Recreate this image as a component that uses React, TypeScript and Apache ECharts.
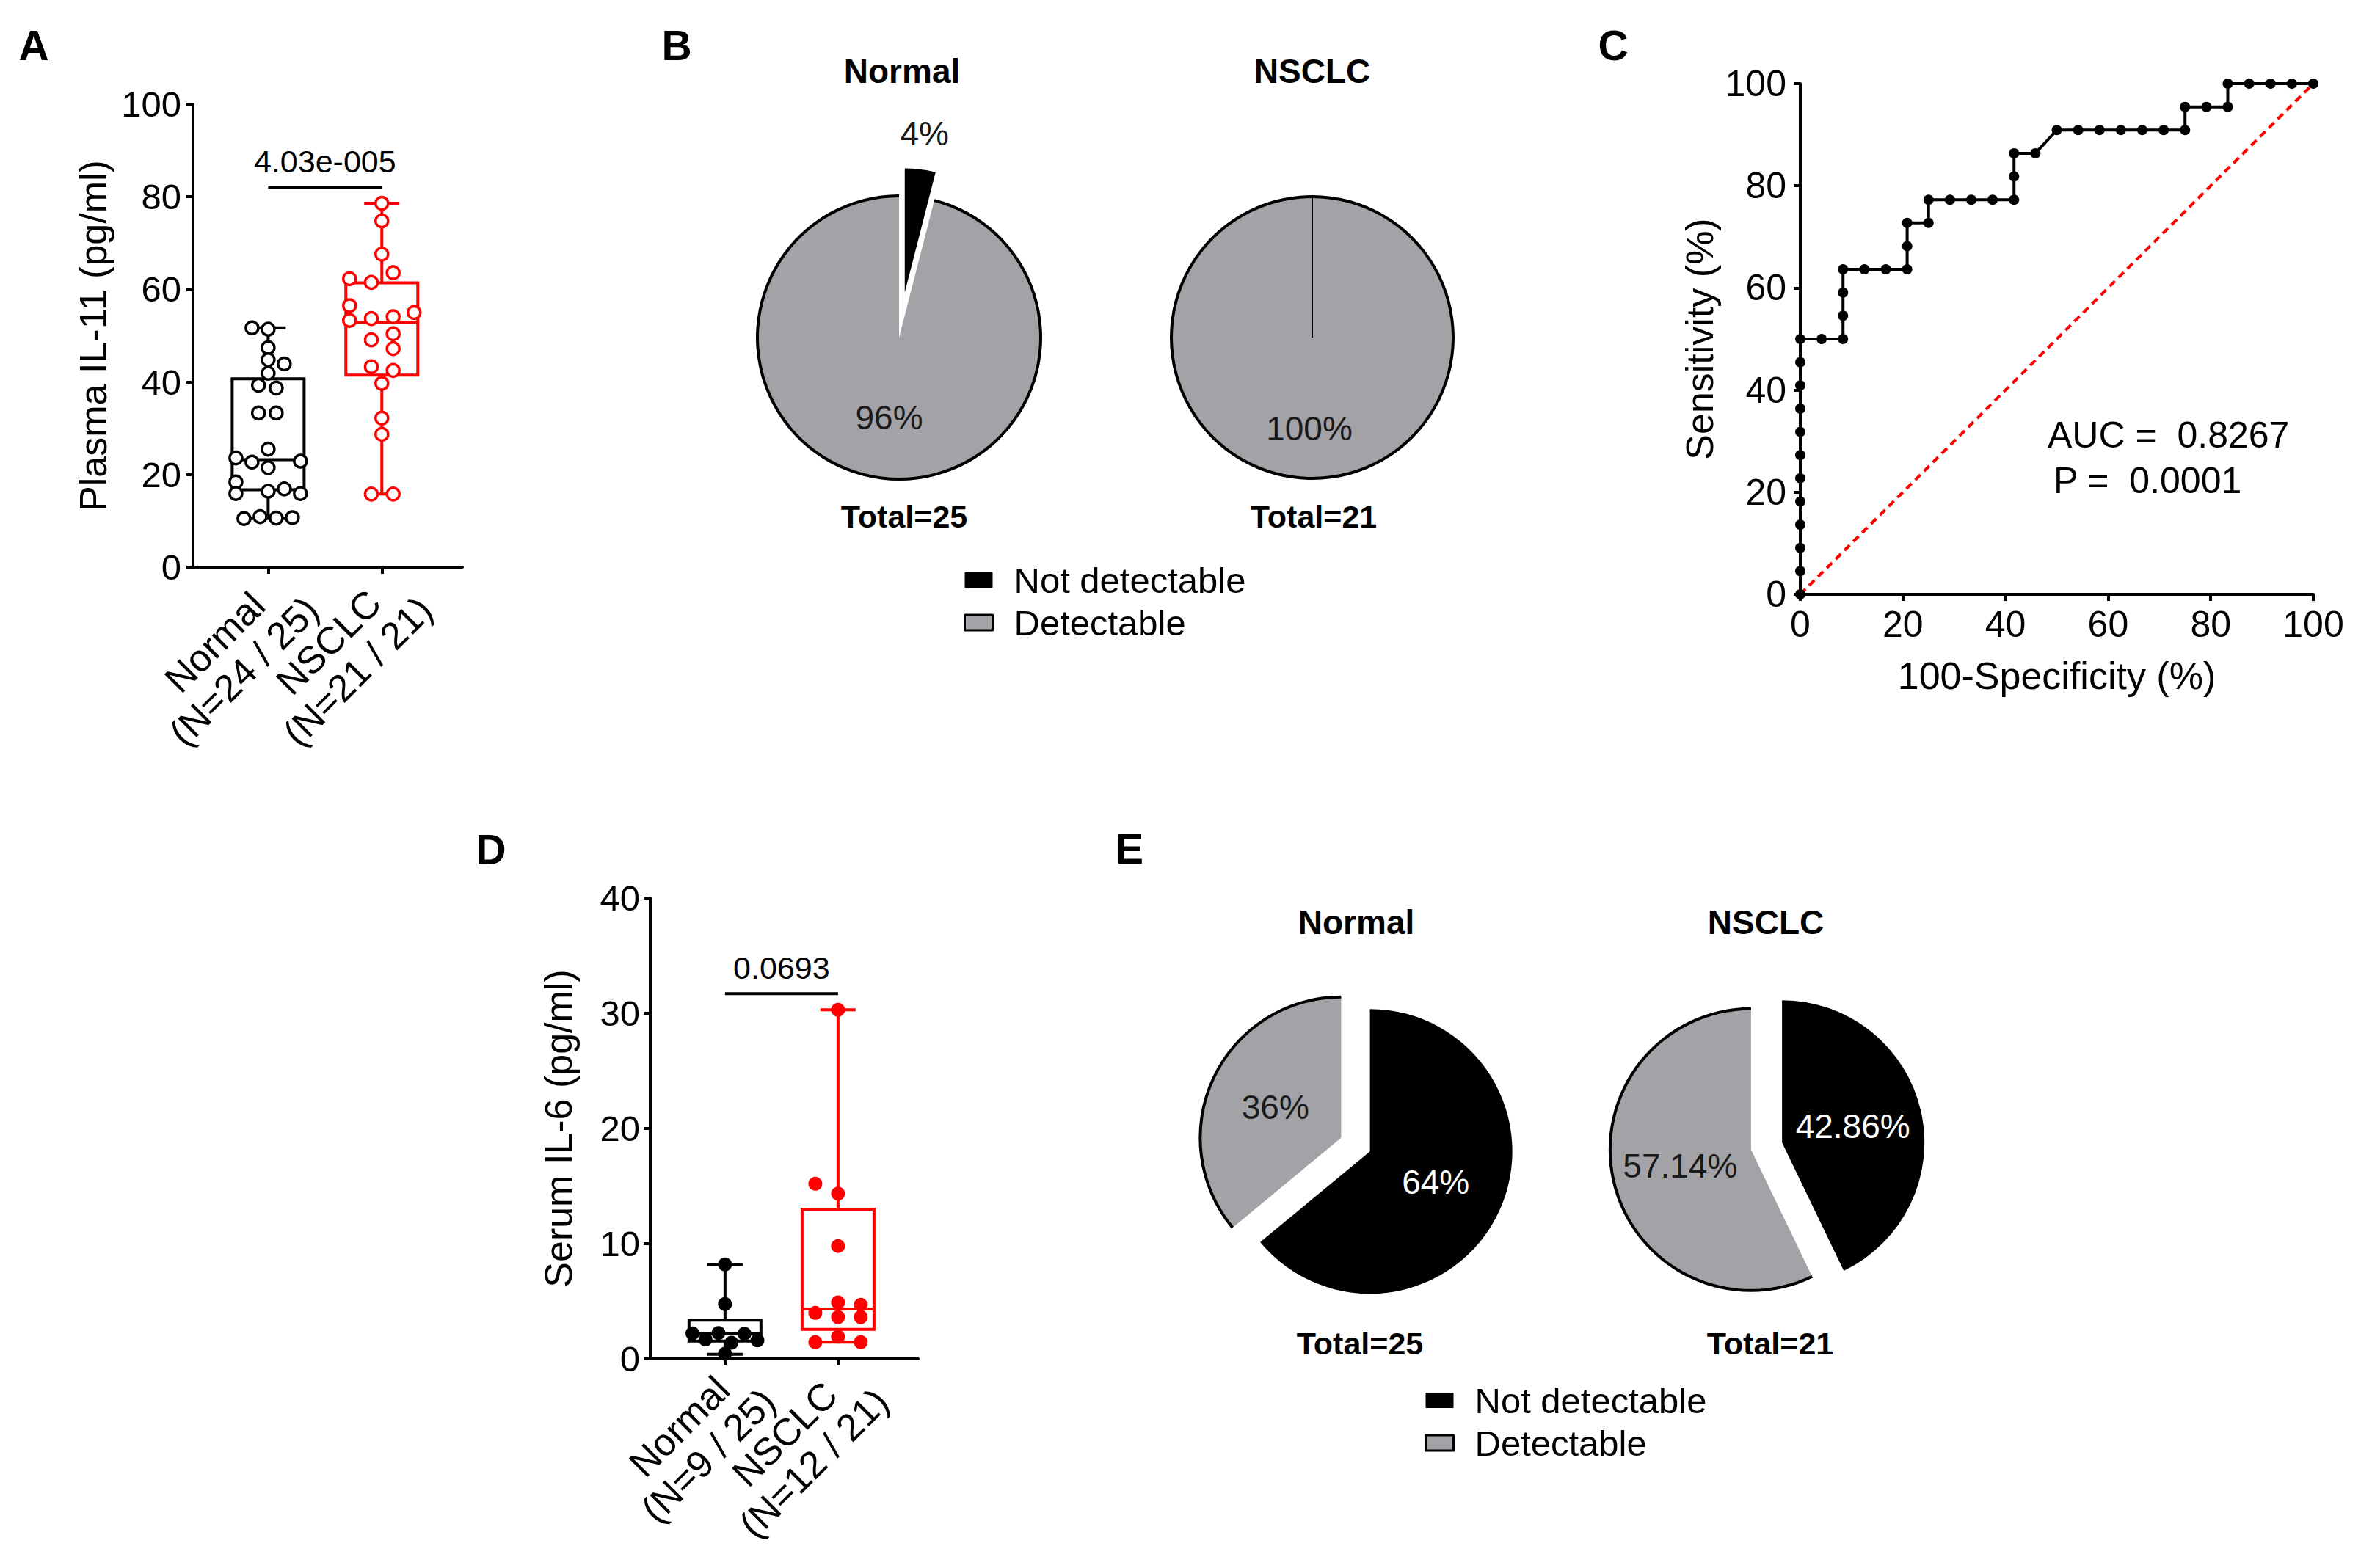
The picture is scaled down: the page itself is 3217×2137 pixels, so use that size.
import React, { useEffect, useRef } from "react";
import * as echarts from "echarts";

const FONT = "'Liberation Sans', Arial, Helvetica, sans-serif";
const GRAY = "#a3a3a7";
const RED = "#ff0000";
const BLACK = "#000000";

// ---------- shared categories ----------
const groupNames = ["Normal", "NSCLC"];
const catPos = [0.279, 0.701];

// ---------- Panel A: plasma IL-11 ----------
const il11Counts = ["(N=24 / 25)", "(N=21 / 21)"];
const il11Normal = [51.7, 51.4, 47.4, 44.8, 43.9, 41.9, 39.3, 38.7, 33.3, 33.3, 25.5, 23.6, 22.7, 22.9, 21.5, 18.4, 15.9, 16.4, 16.9, 15.9, 10.5, 10.9, 10.6, 10.7];
const il11NormalSlot = [-2, 0, 0, 0, 2, 0, -1.2, 1, -1.2, 1, 0, -4, -2, 4, 0, -4, -4, 0, 2, 4, -3, -1, 1, 3];
const il11Nsclc = [78.6, 74.8, 67.6, 63.6, 62.3, 61.5, 56.5, 55.0, 53.3, 53.7, 54.1, 49.1, 50.4, 47.2, 43.3, 42.5, 39.7, 32.2, 28.7, 15.8, 15.8];
const il11NsclcSlot = [0, 0, 0, 1.4, -4, -1.3, -4, 4, -4, -1.3, 1.4, -1.3, 1.4, 1.4, -1.3, 1.4, 0, 0, 0, -1.3, 1.4];
// [min, q1, median, q3, max]
const il11BoxNormal = [10.5, 16.7, 23.2, 40.7, 51.7];
const il11BoxNsclc = [15.8, 41.5, 52.9, 61.4, 78.6];
const il11P = "4.03e-005";
const il11BarLevel = 82.1;

// ---------- Panel D: serum IL-6 ----------
const il6Counts = ["(N=9 / 25)", "(N=12 / 21)"];
const il6Normal = [8.2, 4.76, 2.21, 1.68, 2.25, 1.4, 2.18, 1.61, 0.45];
const il6NormalSlot = [0, 0, -5, -3, -1, 1, 3, 5, 0];
const il6Nsclc = [30.3, 15.2, 14.35, 9.8, 4.9, 4.69, 3.99, 3.63, 3.63, 1.93, 1.45, 1.45];
const il6NsclcSlot = [0, -3.5, 0, 0, 0, 3.5, -3.5, 0, 3.5, 0, -3.5, 3.5];
const il6BoxNormal = [0.4, 1.55, 2.18, 3.36, 8.2];
const il6BoxNsclc = [1.45, 2.57, 4.33, 13.0, 30.3];
const il6P = "0.0693";
const il6BarLevel = 31.7;

// ---------- Panel C: ROC ----------
const rocX = [0, 0, 0, 0, 0, 0, 0, 0, 0, 0, 0, 0, 4.17, 8.33, 8.33, 8.33, 8.33, 12.5, 16.67, 20.83, 20.83, 20.83, 25, 25, 29.17, 33.33, 37.5, 41.67, 41.67, 41.67, 45.83, 50, 54.17, 58.33, 62.5, 66.67, 70.83, 75, 75, 79.17, 83.33, 83.33, 87.5, 91.67, 95.83, 100];
const rocY = [0, 4.55, 9.09, 13.64, 18.18, 22.73, 27.27, 31.82, 36.36, 40.91, 45.45, 50, 50, 50, 54.55, 59.09, 63.64, 63.64, 63.64, 63.64, 68.18, 72.73, 72.73, 77.27, 77.27, 77.27, 77.27, 77.27, 81.82, 86.36, 86.36, 90.91, 90.91, 90.91, 90.91, 90.91, 90.91, 90.91, 95.45, 95.45, 95.45, 100, 100, 100, 100, 100];
const chanceX = [0, 100];
const chanceY = [0, 100];
const aucText = "AUC =  0.8267";
const pRocText = "P =  0.0001";

// ---------- Pies ----------
const pieNames = ["Not detectable", "Detectable"];
const il11DetNormal = [1, 24];
const il11DetNsclc = [0, 21];
const il6DetNormal = [16, 9];
const il6DetNsclc = [9, 12];
const il11Totals = ["Total=25", "Total=21"];
const il6Totals = ["Total=25", "Total=21"];

const TRANSPARENT = "rgba(0,0,0,0)";

const txt = (text: string, x: number, y: number, size: number, weight: string, align = "center") => ({
  type: "text",
  x,
  y,
  silent: true,
  style: {
    text,
    fill: BLACK,
    fontSize: size,
    fontWeight: weight,
    fontFamily: FONT,
    align,
    textAlign: align,
    verticalAlign: "middle",
    textVerticalAlign: "middle",
  },
});

const boxRender = (halfBox: number, halfCap: number, lw: number) => (params: any, api: any) => {
  const x = api.value(0);
  const pLo = api.coord([x, api.value(1)]);
  const cx = pLo[0];
  const yLo = pLo[1];
  const yQ1 = api.coord([x, api.value(2)])[1];
  const yMed = api.coord([x, api.value(3)])[1];
  const yQ3 = api.coord([x, api.value(4)])[1];
  const yHi = api.coord([x, api.value(5)])[1];
  const color = api.visual("color");
  const ls = { stroke: color, lineWidth: lw, fill: null };
  return {
    type: "group",
    children: [
      { type: "line", shape: { x1: cx, y1: yHi, x2: cx, y2: yQ3 }, style: ls },
      { type: "line", shape: { x1: cx, y1: yQ1, x2: cx, y2: yLo }, style: ls },
      { type: "line", shape: { x1: cx - halfCap, y1: yHi, x2: cx + halfCap, y2: yHi }, style: ls },
      { type: "line", shape: { x1: cx - halfCap, y1: yLo, x2: cx + halfCap, y2: yLo }, style: ls },
      { type: "rect", shape: { x: cx - halfBox, y: yQ3, width: 2 * halfBox, height: yQ1 - yQ3 }, style: { stroke: color, lineWidth: lw, fill: "#ffffff" } },
      { type: "line", shape: { x1: cx - halfBox, y1: yMed, x2: cx + halfBox, y2: yMed }, style: ls },
    ],
  };
};

const bracketRender = (label: string) => (params: any, api: any) => {
  const y = api.value(2);
  const p1 = api.coord([api.value(0), y]);
  const p2 = api.coord([api.value(1), y]);
  return {
    type: "group",
    children: [
      { type: "line", shape: { x1: p1[0], y1: p1[1], x2: p2[0], y2: p2[1] }, style: { stroke: BLACK, lineWidth: 4 } },
      {
        type: "text",
        x: (p1[0] + p2[0]) / 2,
        y: p1[1] - 35,
        style: { text: label, fill: BLACK, fontSize: 43, fontFamily: FONT, align: "center", verticalAlign: "middle", textAlign: "center", textVerticalAlign: "middle" },
      },
    ],
  };
};

const nearestIdx = (v: number) => (Math.abs(v - catPos[0]) < Math.abs(v - catPos[1]) ? 0 : 1);

const axisLine = { show: true, onZero: false, lineStyle: { color: BLACK, width: 4 } };
const axisTick = (len: number) => ({ show: true, length: len, lineStyle: { color: BLACK, width: 4 } });

const catXAxis = (gridIndex: number, counts: string[]) => ({
  type: "value",
  gridIndex,
  min: 0,
  max: 1,
  axisLine,
  splitLine: { show: false },
  axisTick: { ...axisTick(9), customValues: catPos },
  axisLabel: {
    customValues: catPos,
    rotate: 45,
    align: "right",
    verticalAlign: "top",
    margin: -10,
    formatter: (v: number) => {
      const i = nearestIdx(v);
      return `{c|${groupNames[i]}}\n{c|${counts[i]}}`;
    },
    rich: { c: { align: "center", fontSize: 52, fontFamily: FONT, color: BLACK, lineHeight: 56 } },
  },
});

const valYAxis = (gridIndex: number, max: number, interval: number, name: string, nameGap: number, labelSize: number, margin: number) => ({
  type: "value",
  gridIndex,
  min: 0,
  max,
  interval,
  name,
  nameLocation: "middle",
  nameRotate: 90,
  nameGap,
  nameTextStyle: { fontSize: 52, fontFamily: FONT, color: BLACK },
  axisLine,
  splitLine: { show: false },
  axisTick: axisTick(9),
  axisLabel: { fontSize: labelSize, fontFamily: FONT, color: BLACK, margin },
});

const scatterSeries = (axisIdx: number, values: number[], slots: number[], cat: number, slotUnit: number, color: string, hollow: boolean, size: number) => ({
  type: "scatter",
  xAxisIndex: axisIdx,
  yAxisIndex: axisIdx,
  symbol: "circle",
  symbolSize: size,
  silent: true,
  z: 5,
  data: values.map((v, i) => [catPos[cat] + slots[i] * slotUnit, v]),
  itemStyle: hollow ? { color: "#ffffff", borderColor: color, borderWidth: 3.5, opacity: 1 } : { color, borderWidth: 0, opacity: 1 },
});

const boxSeries = (axisIdx: number, boxes: number[][], colors: string[]) => ({
  type: "custom",
  xAxisIndex: axisIdx,
  yAxisIndex: axisIdx,
  silent: true,
  z: 3,
  clip: false,
  renderItem: boxRender(49, 24, 4),
  encode: { x: 0, y: [1, 2, 3, 4, 5] },
  data: boxes.map((b, i) => ({ value: [catPos[i], ...b], itemStyle: { color: colors[i] } })),
});

const bracketSeries = (axisIdx: number, label: string, level: number) => ({
  type: "custom",
  xAxisIndex: axisIdx,
  yAxisIndex: axisIdx,
  silent: true,
  z: 4,
  clip: false,
  renderItem: bracketRender(label),
  encode: { x: [0, 1], y: 2 },
  data: [[catPos[0], catPos[1], level]],
});

const pieLabel = { fontSize: 46, fontFamily: FONT, color: "#1a1a1a" };

const ring = (center: number[], r: number, values: number[], colors: string[], selected: boolean, offset: number) => ({
  type: "pie",
  center,
  radius: [r - 2, r + 2],
  startAngle: 90,
  clockwise: true,
  silent: true,
  selectedMode: selected ? "multiple" : false,
  selectedOffset: offset,
  avoidLabelOverlap: false,
  label: { show: false },
  labelLine: { show: false },
  emphasis: { disabled: true },
  z: 3,
  data: values.map((v, i) => ({ name: pieNames[i], value: v, selected, itemStyle: { color: colors[i] } })),
});

// pie geometry (layout only)
const B_NORMAL_C = [1225, 460];
const B_NSCLC_C = [1788, 460];
const B_R = 193;
const B_EXPLODE = 62;
const B_SLICE_R = 169;

export default function App() {
  const ref = useRef<HTMLDivElement>(null);
  useEffect(() => {
    if (!ref.current) return;
    const chart = echarts.init(ref.current, undefined, { renderer: "svg" });

    const slotA = 11 / 367;
    const slotD = 8.85 / 365;

    // direction of the exploded "Not detectable" slice in panel B (Normal)
    const sliceMid = (il11DetNormal[0] / (il11DetNormal[0] + il11DetNormal[1])) * Math.PI;
    const explodedCenter = [
      B_NORMAL_C[0] + B_EXPLODE * Math.sin(sliceMid),
      B_NORMAL_C[1] - B_EXPLODE * Math.cos(sliceMid),
    ];

    const option: any = {
      animation: false,
      backgroundColor: "#ffffff",
      textStyle: { fontFamily: FONT },
      grid: [
        { left: 263, top: 142, width: 367, height: 631, containLabel: false, outerBoundsMode: "none" },
        { left: 886, top: 1224, width: 365, height: 628, containLabel: false, outerBoundsMode: "none" },
        { left: 2453, top: 114, width: 699, height: 696, containLabel: false, outerBoundsMode: "none" },
      ],
      xAxis: [
        catXAxis(0, il11Counts),
        catXAxis(1, il6Counts),
        {
          type: "value",
          gridIndex: 2,
          min: 0,
          max: 100,
          interval: 20,
          name: "100-Specificity (%)",
          nameLocation: "middle",
          nameGap: 85,
          nameTextStyle: { fontSize: 52, fontFamily: FONT, color: BLACK },
          axisLine,
          splitLine: { show: false },
          axisTick: axisTick(9),
          axisLabel: { fontSize: 50, fontFamily: FONT, color: BLACK, margin: 16 },
        },
      ],
      yAxis: [
        valYAxis(0, 100, 20, "Plasma IL-11 (pg/ml)", 110, 49, 16),
        valYAxis(1, 40, 10, "Serum IL-6 (pg/ml)", 99, 49, 14),
        valYAxis(2, 100, 20, "Sensitivity (%)", 111, 50, 19),
      ],
      legend: [
        {
          left: 1313,
          top: 766,
          orient: "vertical",
          padding: 0,
          itemWidth: 38,
          itemHeight: 21,
          itemGap: 9,
          icon: "rect",
          selectedMode: false,
          textStyle: { fontSize: 49, fontFamily: FONT, color: BLACK, lineHeight: 49, padding: [0, 0, 0, 24] },
          data: [
            { name: pieNames[0], itemStyle: { color: BLACK, borderWidth: 0 } },
            { name: pieNames[1], itemStyle: { color: GRAY, borderColor: BLACK, borderWidth: 3 } },
          ],
        },
        {
          left: 1941,
          top: 1884,
          orient: "vertical",
          padding: 0,
          itemWidth: 38,
          itemHeight: 21,
          itemGap: 9,
          icon: "rect",
          selectedMode: false,
          textStyle: { fontSize: 49, fontFamily: FONT, color: BLACK, lineHeight: 49, padding: [0, 0, 0, 24] },
          data: [
            { name: pieNames[0], itemStyle: { color: BLACK, borderWidth: 0 } },
            { name: pieNames[1], itemStyle: { color: GRAY, borderColor: BLACK, borderWidth: 3 } },
          ],
        },
      ],
      graphic: [
        txt("A", 46, 62, 57, "bold"),
        txt("B", 922, 62, 57, "bold"),
        txt("C", 2198, 62, 57, "bold"),
        txt("D", 669, 1158, 57, "bold"),
        txt("E", 1539, 1157, 57, "bold"),
        txt(groupNames[0], 1229, 97, 46, "bold"),
        txt(groupNames[1], 1788, 97, 46, "bold"),
        txt(il11Totals[0], 1232, 704, 43, "bold"),
        txt(il11Totals[1], 1790, 704, 43, "bold"),
        txt(groupNames[0], 1848, 1257, 46, "bold"),
        txt(groupNames[1], 2406, 1257, 46, "bold"),
        txt(il6Totals[0], 1853, 1831, 43, "bold"),
        txt(il6Totals[1], 2412, 1831, 43, "bold"),
        txt(aucText, 2790, 593, 50, "normal", "left"),
        txt(pRocText, 2798, 655, 50, "normal", "left"),
        {
          // edge of the single (100%) slice, drawn by GraphPad from centre to top
          type: "line",
          silent: true,
          z: 10,
          shape: { x1: B_NSCLC_C[0], y1: B_NSCLC_C[1], x2: B_NSCLC_C[0], y2: B_NSCLC_C[1] - B_R + 2 },
          style: { stroke: BLACK, lineWidth: 2 },
        },
      ],
      series: [
        // Panel A
        boxSeries(0, [il11BoxNormal, il11BoxNsclc], [BLACK, RED]),
        bracketSeries(0, il11P, il11BarLevel),
        scatterSeries(0, il11Normal, il11NormalSlot, 0, slotA, BLACK, true, 17),
        scatterSeries(0, il11Nsclc, il11NsclcSlot, 1, slotA, RED, true, 17),
        // Panel D
        boxSeries(1, [il6BoxNormal, il6BoxNsclc], [BLACK, RED]),
        bracketSeries(1, il6P, il6BarLevel),
        scatterSeries(1, il6Normal, il6NormalSlot, 0, slotD, BLACK, false, 19),
        scatterSeries(1, il6Nsclc, il6NsclcSlot, 1, slotD, RED, false, 19),
        // Panel C
        {
          type: "line",
          xAxisIndex: 2,
          yAxisIndex: 2,
          data: chanceX.map((x, i) => [x, chanceY[i]]),
          symbol: "none",
          silent: true,
          clip: false,
          z: 3,
          lineStyle: { color: RED, width: 4, type: [10, 7] },
        },
        {
          type: "line",
          xAxisIndex: 2,
          yAxisIndex: 2,
          data: rocX.map((x, i) => [x, rocY[i]]),
          symbol: "circle",
          symbolSize: 14,
          showAllSymbol: true,
          silent: true,
          clip: false,
          z: 5,
          lineStyle: { color: BLACK, width: 4 },
          itemStyle: { color: BLACK },
        },
        // Panel B, Normal: gray part
        {
          type: "pie",
          center: B_NORMAL_C,
          radius: [0, B_R],
          startAngle: 90,
          clockwise: true,
          silent: true,
          avoidLabelOverlap: false,
          percentPrecision: 2,
          labelLine: { show: false },
          emphasis: { disabled: true },
          data: [
            { name: pieNames[0], value: il11DetNormal[0], itemStyle: { color: TRANSPARENT }, label: { show: false } },
            { name: pieNames[1], value: il11DetNormal[1], itemStyle: { color: GRAY }, label: { show: true, position: "inside", formatter: "{d}%", offset: [-1, 10], ...pieLabel } },
          ],
        },
        ring(B_NORMAL_C, B_R, il11DetNormal, [TRANSPARENT, BLACK], false, 0),
        // Panel B, Normal: exploded black slice
        {
          type: "pie",
          center: explodedCenter,
          radius: [0, B_SLICE_R],
          startAngle: 90,
          clockwise: true,
          silent: true,
          avoidLabelOverlap: false,
          percentPrecision: 2,
          labelLine: { show: false },
          emphasis: { disabled: true },
          z: 4,
          data: [
            { name: pieNames[0], value: il11DetNormal[0], itemStyle: { color: BLACK }, label: { show: true, position: "inside", formatter: "{d}%", offset: [16, -130], ...pieLabel } },
            { name: pieNames[1], value: il11DetNormal[1], itemStyle: { color: TRANSPARENT }, label: { show: false } },
          ],
        },
        // Panel B, NSCLC
        {
          type: "pie",
          center: B_NSCLC_C,
          radius: [0, 192],
          startAngle: 90,
          clockwise: true,
          silent: true,
          avoidLabelOverlap: false,
          percentPrecision: 2,
          labelLine: { show: false },
          emphasis: { disabled: true },
          data: [
            { name: pieNames[0], value: il11DetNsclc[0], itemStyle: { color: BLACK }, label: { show: false } },
            { name: pieNames[1], value: il11DetNsclc[1], itemStyle: { color: GRAY }, label: { show: true, position: "inside", formatter: "{d}%", offset: [-4, 25], ...pieLabel } },
          ],
        },
        ring(B_NSCLC_C, 192, il11DetNsclc, [BLACK, BLACK], false, 0),
        // Panel E, Normal
        {
          type: "pie",
          center: [1847, 1560],
          radius: [0, 192],
          startAngle: 90,
          clockwise: true,
          silent: true,
          selectedMode: "multiple",
          selectedOffset: 21.7,
          avoidLabelOverlap: false,
          percentPrecision: 2,
          labelLine: { show: false },
          emphasis: { disabled: true },
          label: { show: true, position: "inside", formatter: "{d}%", ...pieLabel },
          data: [
            { name: pieNames[0], value: il6DetNormal[0], selected: true, itemStyle: { color: BLACK }, label: { color: "#ffffff" } },
            { name: pieNames[1], value: il6DetNormal[1], selected: true, itemStyle: { color: GRAY }, label: { color: "#1a1a1a" } },
          ],
        },
        ring([1847, 1560], 192, il6DetNormal, [BLACK, BLACK], true, 21.7),
        // Panel E, NSCLC
        {
          type: "pie",
          center: [2407, 1562],
          radius: [0, 192],
          startAngle: 90,
          clockwise: true,
          silent: true,
          selectedMode: "multiple",
          selectedOffset: 21.7,
          avoidLabelOverlap: false,
          percentPrecision: 2,
          labelLine: { show: false },
          emphasis: { disabled: true },
          label: { show: true, position: "inside", formatter: "{d}%", ...pieLabel },
          data: [
            { name: pieNames[0], value: il6DetNsclc[0], selected: true, itemStyle: { color: BLACK }, label: { color: "#ffffff" } },
            { name: pieNames[1], value: il6DetNsclc[1], selected: true, itemStyle: { color: GRAY }, label: { color: "#1a1a1a" } },
          ],
        },
        ring([2407, 1562], 192, il6DetNsclc, [BLACK, BLACK], true, 21.7),
      ],
    };

    chart.setOption(option);
    return () => {
      chart.dispose();
    };
  }, []);

  return (
    <div
      ref={ref}
      style={{ position: "absolute", left: 0, top: 0, width: 3217, height: 2137, background: "#ffffff" }}
    />
  );
}
